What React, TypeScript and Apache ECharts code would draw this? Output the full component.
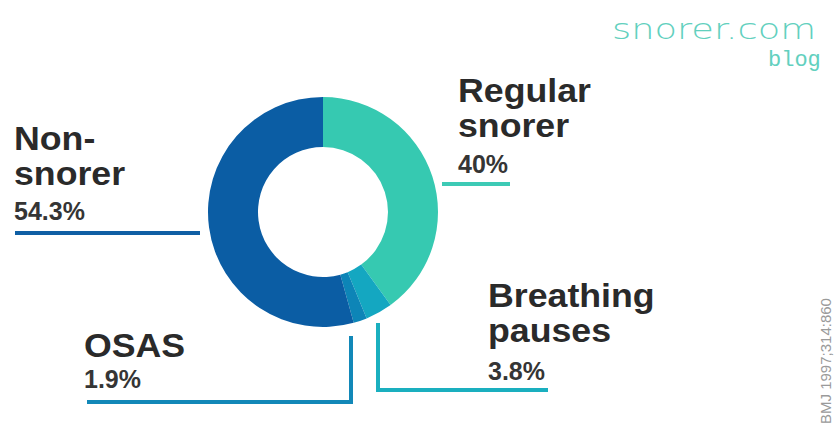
import React, { useEffect, useRef } from "react";
import * as echarts from "echarts";

const categories = ["Regular snorer", "Breathing pauses", "OSAS", "Non-snorer"];
const labelLines = [["Regular", "snorer"], ["Breathing", "pauses"], ["OSAS"], ["Non-", "snorer"]];
const values = [40, 3.8, 1.9, 54.3];
const valueLabels = ["40%", "3.8%", "1.9%", "54.3%"];
const colors = ["#36c9b1", "#14a7c1", "#0d85b7", "#0b5da4"];
const lineColors = ["#3dcab5", "#1aafbf", "#1288b8", "#0f5fa4"];

// label anchor: x, first baseline y (px), value baseline y
const labelPos = [
  { x: 458, y: 102, vy: 173 },
  { x: 488, y: 307, vy: 380 },
  { x: 84, y: 357, vy: 388 },
  { x: 14, y: 150, vy: 220 },
];
const leaderPoints = [
  [[442, 184], [510, 184]],
  [[378, 323], [378, 390], [548, 390]],
  [[351, 336], [351, 402], [87, 402]],
  [[15, 233], [200, 233]],
];

const NAME_SIZE = 34;
const NAME_LH = 35;
const NAME_SCALE_X = 1.05;
const VALUE_SIZE = 25;

export default function App() {
  const ref = useRef<HTMLDivElement>(null);
  useEffect(() => {
    const chart = echarts.init(ref.current!, undefined, { renderer: "svg" });
    const graphics: any[] = [];
    categories.forEach((c, i) => {
      const p = labelPos[i];
      labelLines[i].forEach((t, j) => {
        graphics.push({
          type: "text",
          x: p.x,
          y: p.y + j * NAME_LH - 0.35 * NAME_SIZE,
          scaleX: NAME_SCALE_X,
          style: {
            text: t,
            fill: "#2a2a2a",
            font: `bold ${NAME_SIZE}px 'Liberation Sans', Arial, sans-serif`,
            verticalAlign: "middle",
          },
        });
      });
      graphics.push({
        type: "text",
        x: p.x,
        y: p.vy - 0.35 * VALUE_SIZE,
        style: {
          text: valueLabels[i],
          fill: "#353535",
          font: `bold ${VALUE_SIZE}px 'Liberation Sans', Arial, sans-serif`,
          verticalAlign: "middle",
        },
      });
      graphics.push({
        type: "polyline",
        shape: { points: leaderPoints[i] },
        style: { stroke: lineColors[i], lineWidth: 4, fill: "none" },
      });
    });
    graphics.push({
      type: "text",
      x: 612,
      y: 29,
      scaleX: 1.27,
      style: {
        text: "snorer.com",
        fill: "#62d0be",
        font: "300 29px 'DejaVu Sans', sans-serif",
        verticalAlign: "middle",
      },
    });
    graphics.push({
      type: "text",
      x: 768,
      y: 60,
      style: {
        text: "blog",
        fill: "#62d0be",
        font: "22px 'Liberation Mono', 'DejaVu Sans Mono', monospace",
        verticalAlign: "middle",
      },
    });
    graphics.push({
      type: "text",
      x: 825,
      y: 424,
      rotation: Math.PI / 2,
      style: {
        text: "BMJ 1997;314:860",
        fill: "#9a9a9a",
        font: "15px 'Liberation Sans', Arial, sans-serif",
        align: "left",
        verticalAlign: "middle",
      },
    });
    chart.setOption({
      animation: false,
      backgroundColor: "#ffffff",
      color: colors,
      series: [
        {
          type: "pie",
          center: [323, 212],
          radius: [65, 115],
          startAngle: 90,
          clockwise: true,
          label: { show: false },
          labelLine: { show: false },
          itemStyle: { borderWidth: 0 },
          data: categories.map((c, i) => ({ name: c, value: values[i] })),
        },
      ],
      graphic: graphics,
    });
    return () => chart.dispose();
  }, []);
  return (
    <div
      ref={ref}
      style={{ position: "fixed", left: 0, top: 0, width: 835, height: 423 }}
    />
  );
}
